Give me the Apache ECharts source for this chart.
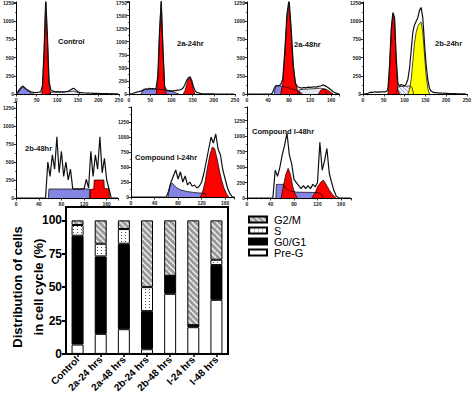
<!DOCTYPE html>
<html><head><meta charset="utf-8">
<script src="https://cdn.jsdelivr.net/npm/echarts@6/dist/echarts.min.js"></script>
<style>html,body{margin:0;padding:0;background:#fff}#c{width:474px;height:395px}</style>
</head><body><div id="c"></div>
<script>
// ================= DATA =================
// raw histogram counts, one value every 4 channel units starting at 0
const binStep = 4;
const ctrlRaw = [5,20,50,80,110,90,70,55,40,30,25,22,20,22,25,30,120,600,1320,800,180,60,40,35,30,32,28,30,26,30,32,35,40,55,70,80,60,40,25,20,18,15,14,12,14,10,12,9,10,8,9,6,7,5,6,4,5,3,4,3,2,3,2];
const a24Raw = [0,5,10,20,30,40,45,55,70,90,100,95,110,100,105,95,110,350,1200,1780,900,150,70,60,65,55,60,65,70,75,80,90,120,180,260,310,330,260,140,60,30,20,12,8,5,4,3,2,2,1,1,0,0,0,0,0,0,0,0,0,0,0,0];
const a48Raw = [0,0,0,0,0,0,0,0,0,0,0,0,10,80,120,110,130,200,600,1100,1300,900,400,150,100,90,80,90,85,95,90,95,100,95,105,110,125,115,100,80,55,30,15,5,0];
const b24Raw = [0,0,5,10,20,25,20,30,25,30,25,30,28,30,35,60,400,900,1120,1050,500,150,110,130,120,110,140,200,350,600,850,950,1000,1050,1150,1190,1050,700,400,200,80,40,25,20,18,15,12,14,10,12,9,8,6,7,5,4,5,3,2,2,1,1,0];
const b48Raw = [0,0,0,0,0,0,0,0,0,0,0,0,0,0,500,300,600,400,850,350,650,300,500,250,400,130,120,130,120,130,125,260,140,650,300,600,400,850,350,550,250,130,0,0,0,0];
const i24Raw = [0,0,0,0,0,0,0,0,0,0,0,0,0,0,0,0,100,250,350,450,300,420,250,350,200,250,180,200,150,180,250,400,600,800,1000,900,1050,800,700,450,300,150,60,0,0];
const i48Raw = [0,0,0,0,0,0,0,0,0,0,0,0,450,350,500,700,850,1050,700,550,300,250,200,150,200,150,200,150,220,180,250,900,450,600,800,400,250,120,30,0,0,0,0,0,0];

// fitted model components: [channel, count]
const ctrlSub = [[0,0],[4,35],[8,70],[12,95],[16,100],[20,85],[24,65],[28,45],[32,30],[36,15],[40,5],[44,0]];
const ctrlG1  = [[62,0],[64,60],[68,550],[72,1250],[76,750],[80,150],[84,0]];
const ctrlS   = [[80,0],[84,25],[100,28],[120,30],[130,35],[140,40],[150,20],[156,0]];
const a24Sub  = [[28,0],[32,60],[36,80],[44,85],[52,90],[64,90],[72,88],[84,80],[92,70],[100,55],[108,30],[114,10],[118,0]];
const a24G1   = [[64,0],[68,250],[72,1150],[76,1750],[80,850],[84,120],[88,0]];
const a24G2   = [[128,0],[132,60],[136,180],[140,290],[144,320],[148,220],[152,80],[156,0]];
const a48Sub  = [[52,0],[54,110],[60,115],[68,105],[76,90],[84,75],[92,55],[100,30],[106,0]];
const a48G1   = [[64,0],[68,150],[72,550],[76,1050],[80,1250],[84,850],[88,380],[92,150],[96,60],[102,0]];
const a48S    = [[96,0],[100,60],[120,70],[140,80],[148,60],[152,0]];
const a48G2   = [[136,0],[140,50],[146,75],[152,60],[158,30],[164,0]];
const b24G1   = [[60,0],[64,350],[68,850],[72,1100],[76,1000],[80,420],[84,60],[88,0]];
const b24S    = [[80,0],[84,100],[112,110],[118,90],[122,0]];
const b24G2   = [[108,0],[112,60],[116,200],[120,450],[124,700],[128,850],[132,930],[136,970],[140,990],[144,850],[148,550],[152,250],[156,80],[160,0]];
const b48Sub  = [[57,0],[58,125],[130,125],[131,0]];
const b48G2   = [[130,0],[131,120],[137,120],[138,250],[155,250],[156,130],[164,130],[165,0]];
const i24Sub  = [[63,0],[66,200],[70,230],[74,190],[78,150],[84,120],[90,105],[96,90],[104,80],[112,70],[120,65],[126,60],[128,0]];
const i24G2   = [[118,0],[122,100],[126,260],[130,500],[134,700],[138,830],[142,810],[146,650],[150,450],[154,280],[158,150],[162,60],[166,0]];
const i48Sub  = [[49,0],[50,220],[62,220],[64,170],[70,130],[76,105],[84,95],[100,92],[120,88],[126,70],[130,0]];
const i48G1   = [[58,0],[62,200],[66,380],[70,480],[74,380],[78,180],[82,60],[86,0]];
const i48G2   = [[110,0],[116,80],[120,180],[126,260],[130,290],[134,230],[140,130],[146,50],[152,0]];

const panelTitles = ['Control','2a-24hr','2a-48hr','2b-24hr','2b-48hr','Compound I-24hr','Compound I-48hr'];

// stacked bar chart
const barCategories = ['Control','2a-24 hrs','2a-48 hrs','2b-24 hrs','2b-48 hrs','I-24 hrs','I-48 hrs'];
const preG   = [7, 15, 18.5, 3.5, 45, 20, 40.5];
const g0g1   = [81.5, 58, 64, 28.5, 13.5, 1.5, 26];
const sPhase = [8, 9.5, 11, 18, 0, 0, 4];
const g2m    = [3.5, 17.5, 6.5, 50, 41.5, 78.5, 29.5];
const legendNames = ['G2/M','S','G0/G1','Pre-G'];
const yTitle = 'Distribution of cells\nin cell cycle (%)';

// ================= STYLE / LAYOUT =================
const F = "'Liberation Sans', Arial, sans-serif";
const RED = '#ff0000', BLUE = '#8484e2', YEL = '#ffff00', LIGHT = '#e6e6f2';

function hatch(bg, fg, size, lw) {
  const c = document.createElement('canvas'); c.width = size; c.height = size;
  const x = c.getContext('2d'); x.fillStyle = bg; x.fillRect(0,0,size,size);
  x.strokeStyle = fg; x.lineWidth = lw; x.beginPath();
  for (const k of [-size, 0, size]) { x.moveTo(k,0); x.lineTo(k+size,size); }
  x.stroke(); return c;
}
function dots() {
  const c = document.createElement('canvas'); c.width = 4; c.height = 3;
  const x = c.getContext('2d'); x.fillStyle = '#fff'; x.fillRect(0,0,4,3);
  x.fillStyle = '#555'; x.fillRect(1,1,1,1); return c;
}
const hatchPat = {image: hatch('#9a9a9a', '#f2f2f2', 6, 1.4), repeat: 'repeat'};
const dotPat = {image: dots(), repeat: 'repeat'};
const lavPat = {image: hatch('#eeeefa', '#9a9ad8', 4, 0.8), repeat: 'repeat'};

const panels = [
  {layout:{left:15, top:2, width:104, height:92}, xMax:250, xInt:50, yMax:1265, raw:ctrlRaw, fills:[[ctrlS,LIGHT],[ctrlSub,BLUE],[ctrlG1,RED]]},
  {layout:{left:129, top:1, width:106, height:93}, xMax:250, xInt:50, yMax:1766, raw:a24Raw, fills:[[a24Sub,BLUE],[a24G1,RED],[a24G2,RED]]},
  {layout:{left:247, top:2, width:92, height:92}, xMax:175, xInt:40, yMax:1265, raw:a48Raw, fills:[[a48S,LIGHT],[a48Sub,BLUE],[a48G1,RED],[a48G2,RED]]},
  {layout:{left:363, top:2, width:109, height:92}, xMax:250, xInt:50, yMax:1265, raw:b24Raw, fills:[[b24S,lavPat],[b24G1,RED],[b24G2,YEL]]},
  {layout:{left:14, top:102, width:104, height:96}, xMax:180, xInt:40, yMax:1333, raw:b48Raw, fills:[[b48Sub,BLUE],[b48G2,RED]]},
  {layout:{left:131, top:107, width:103, height:90}, xMax:175, xInt:40, yMax:1500, raw:i24Raw, fills:[[i24Sub,BLUE],[i24G2,RED]]},
  {layout:{left:247, top:107, width:104, height:91}, xMax:177, xInt:40, yMax:1470, raw:i48Raw, fills:[[i48Sub,BLUE],[i48G1,RED],[i48G2,RED]]}
];
const titlePos = [[58,41],[177,43],[294,44],[435,43],[25,148],[135,157],[252,131]];

const grids = [], xAxes = [], yAxes = [], series = [];
const plain = v => String(v);
const axBase = {
  axisLine:{show:true, onZero:false, lineStyle:{color:'#000', width:1}},
  axisTick:{show:true, length:2.5, lineStyle:{color:'#000', width:0.8}},
  minorTick:{show:true, length:1.2, lineStyle:{color:'#000', width:0.6}},
  splitLine:{show:false}
};
panels.forEach((p, i) => {
  grids.push(Object.assign({containLabel:false}, p.layout));
  xAxes.push(Object.assign({}, axBase, {
    gridIndex:i, type:'value', min:0, max:p.xMax, interval:p.xInt,
    minorTick:Object.assign({}, axBase.minorTick, {splitNumber:5}),
    axisLabel:{fontSize:5, fontWeight:'bold', color:'#222', margin:3, fontFamily:F, formatter:plain,
               showMaxLabel: p.xMax % p.xInt === 0}
  }));
  yAxes.push(Object.assign({}, axBase, {
    gridIndex:i, type:'value', min:0, max:p.yMax, interval:250,
    minorTick:Object.assign({}, axBase.minorTick, {splitNumber:2}),
    axisLabel:{fontSize:5, fontWeight:'bold', color:'#222', margin:2, fontFamily:F, formatter:plain, showMaxLabel:false}
  }));
  p.fills.forEach(([d, col]) => {
    series.push({type:'line', xAxisIndex:i, yAxisIndex:i, data:d, symbol:'none', silent:true,
      lineStyle:{color:'#000', width:0.7}, areaStyle:{color:col, opacity:1}, z:2, animation:false});
  });
  series.push({type:'line', xAxisIndex:i, yAxisIndex:i, symbol:'none', silent:true,
    data:p.raw.map((v, k) => [k*binStep, v]),
    lineStyle:{color:'#111', width:1.2}, z:3, animation:false});
});

// bar chart grid (index 7)
const bi = panels.length;
grids.push({left:66, top:207, width:162, height:156, show:true, borderColor:'#000', borderWidth:2, backgroundColor:'transparent'});
xAxes.push({gridIndex:bi, type:'category', data:barCategories,
  axisLine:{show:true, lineStyle:{color:'#000', width:2}},
  axisTick:{show:true, alignWithLabel:true, length:3, lineStyle:{color:'#000', width:1.5}},
  axisLabel:{rotate:45, interval:0, fontSize:10, fontWeight:'bold', color:'#000', margin:4, fontFamily:F}});
yAxes.push({gridIndex:bi, type:'value', min:0, max:110, interval:25,
  axisLine:{show:true, lineStyle:{color:'#000', width:2}},
  axisTick:{show:true, length:4, lineStyle:{color:'#000', width:2}},
  splitLine:{show:false},
  axisLabel:{fontSize:12, fontWeight:'bold', color:'#000', margin:4, fontFamily:F, showMaxLabel:false}});
const barCommon = {type:'bar', xAxisIndex:bi, yAxisIndex:bi, stack:'cc', barWidth:12, animation:false};
series.push(Object.assign({}, barCommon, {name:'Pre-G', data:preG, itemStyle:{color:'#fff', borderColor:'#000', borderWidth:1}}));
series.push(Object.assign({}, barCommon, {name:'G0/G1', data:g0g1, itemStyle:{color:'#000', borderColor:'#000', borderWidth:1}}));
series.push(Object.assign({}, barCommon, {name:'S', data:sPhase, itemStyle:{color:dotPat, borderColor:'#000', borderWidth:1}}));
series.push(Object.assign({}, barCommon, {name:'G2/M', data:g2m, itemStyle:{color:hatchPat, borderColor:'#000', borderWidth:1}}));

const graphics = panelTitles.map((t, i) => ({
  type:'text', x:titlePos[i][0], y:titlePos[i][1], silent:true,
  style:{text:t, font:"bold 7.5px " + F, fill:'#111', textVerticalAlign:'middle'}
}));
graphics.push({type:'text', x:28, y:287, rotation:Math.PI/2, silent:true,
  style:{text:yTitle, font:"bold 13px " + F, fill:'#000', textAlign:'center', textVerticalAlign:'middle', lineHeight:21}});

const chart = echarts.init(document.getElementById('c'), null, {renderer:'svg', width:474, height:395});
chart.setOption({
  animation:false,
  backgroundColor:'#fff',
  grid:grids, xAxis:xAxes, yAxis:yAxes, series:series,
  legend:{data:legendNames, orient:'vertical', left:243, top:209, itemWidth:18, itemHeight:6, itemGap:0,
    icon:'rect', selectedMode:false,
    textStyle:{fontSize:11, color:'#000', fontFamily:F, padding:[0,0,0,2]}},
  graphic:graphics
});
</script></body></html>
